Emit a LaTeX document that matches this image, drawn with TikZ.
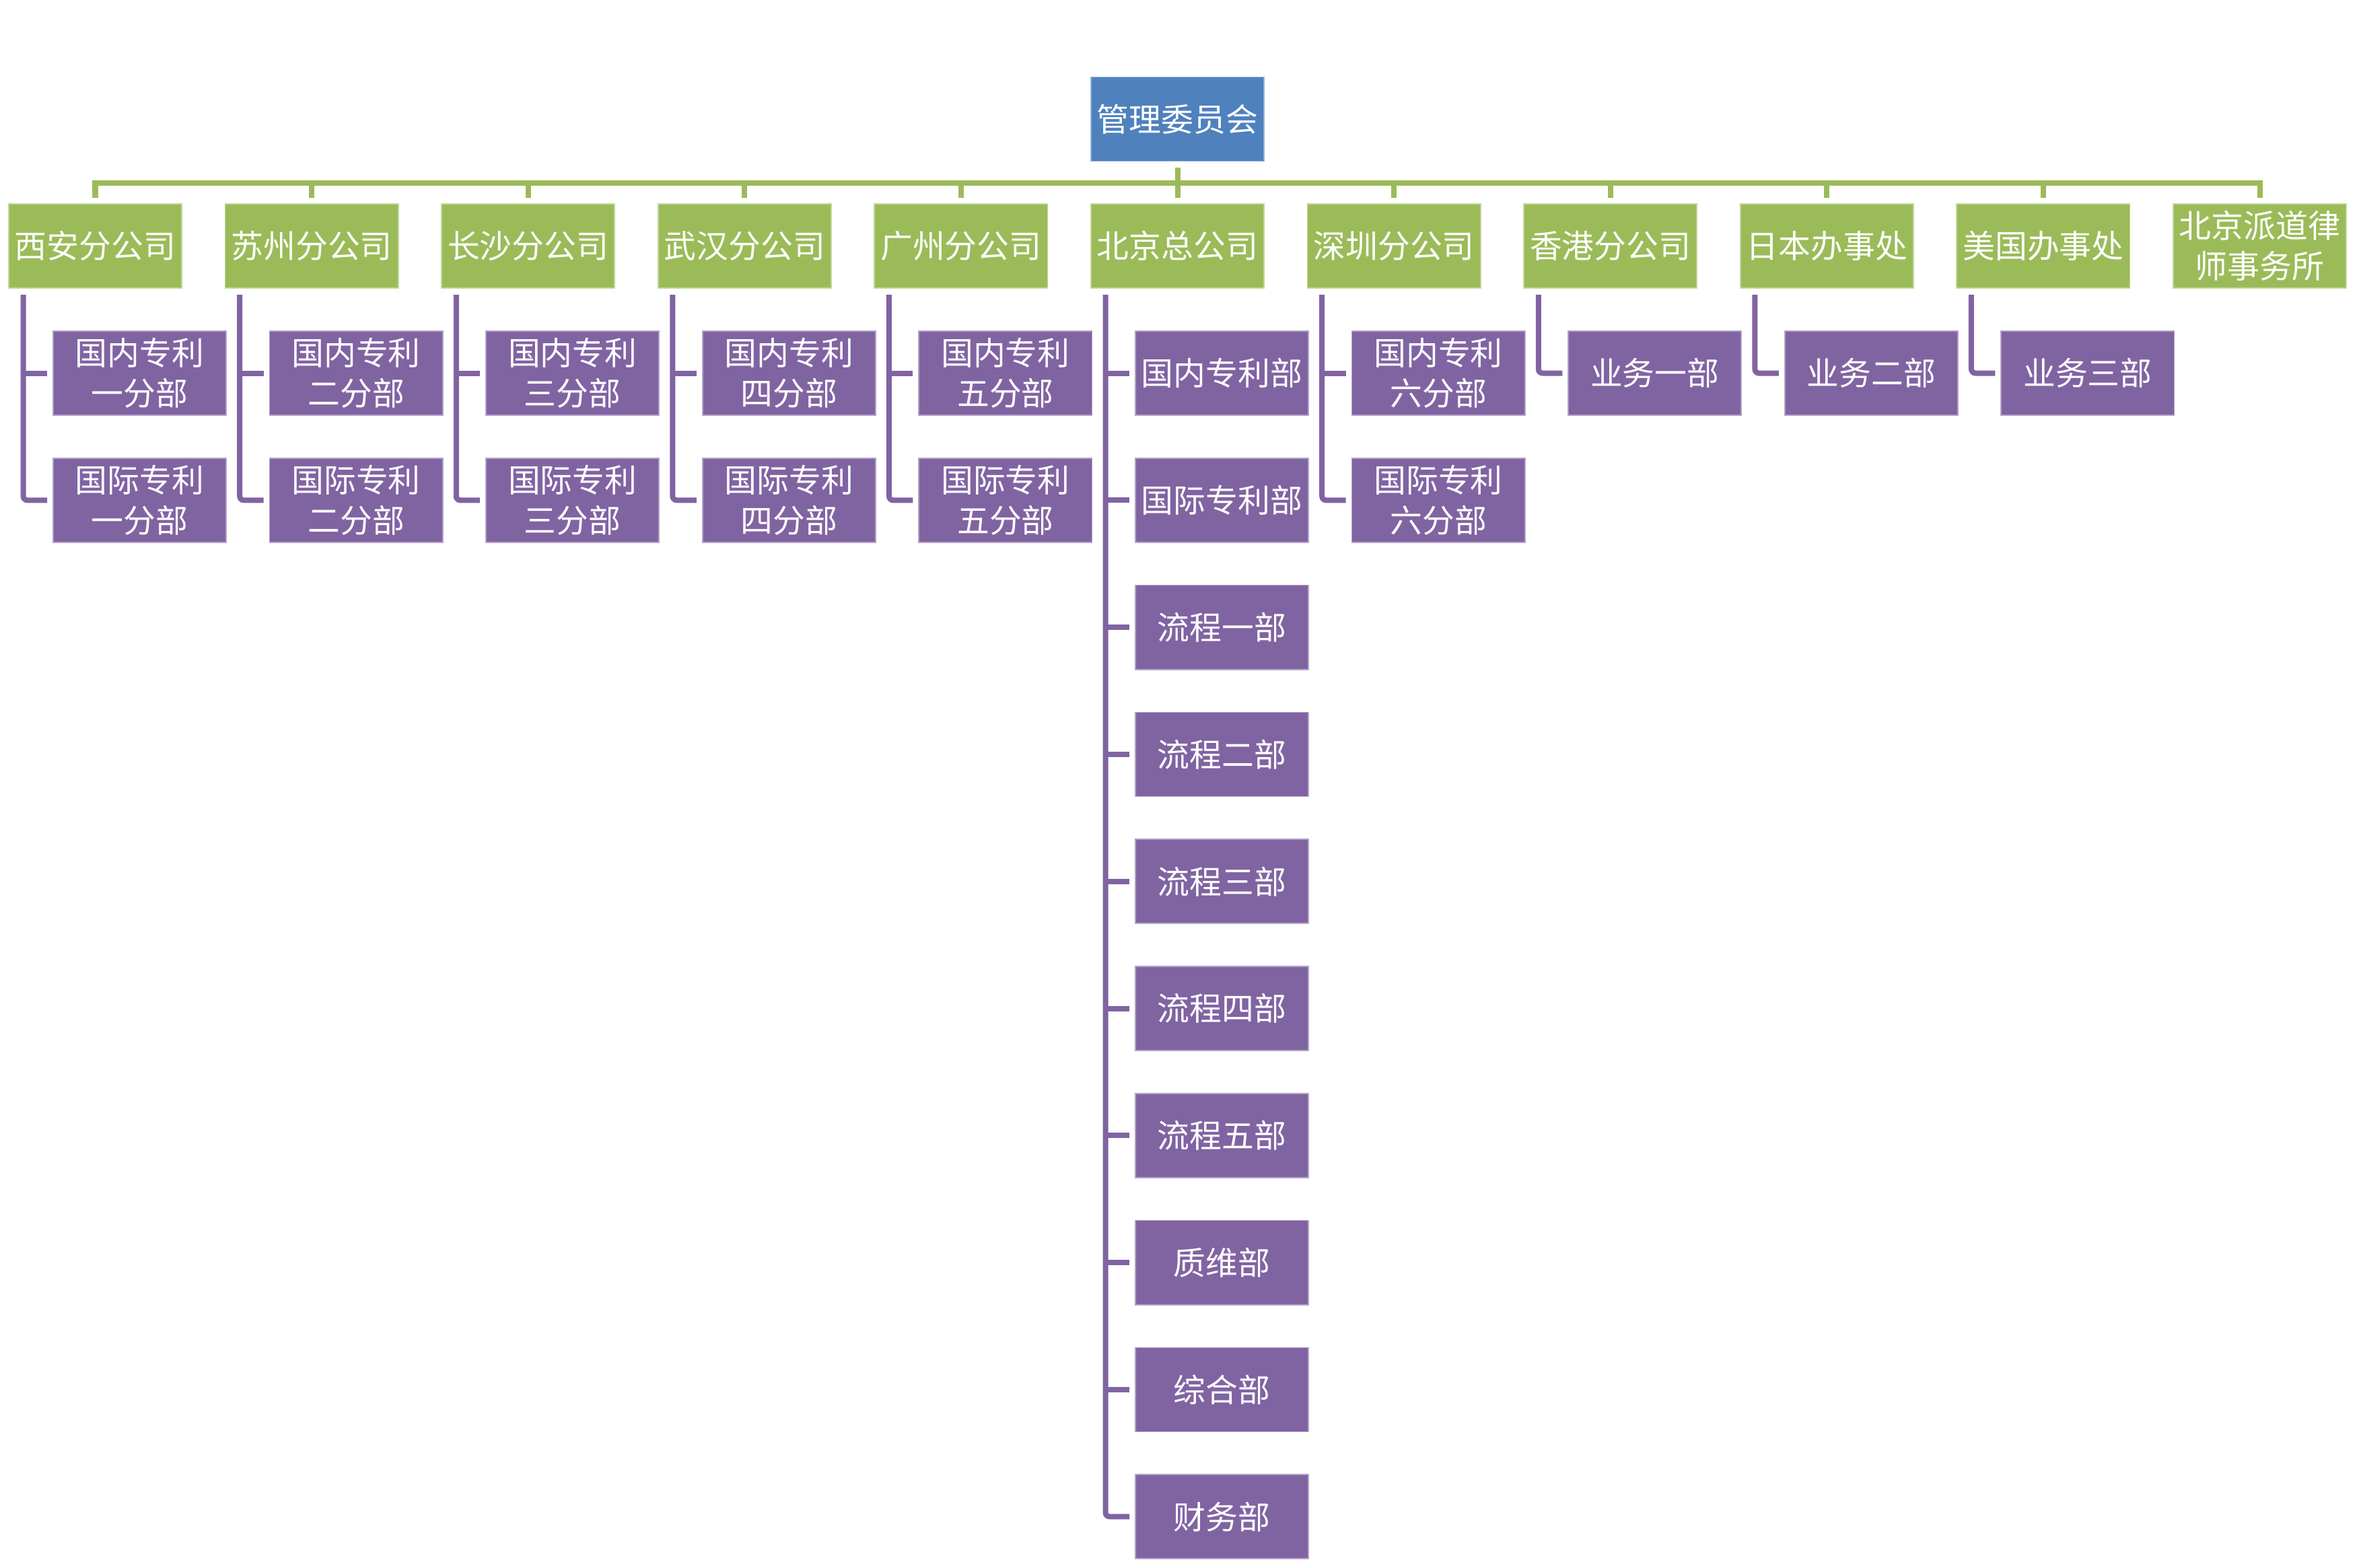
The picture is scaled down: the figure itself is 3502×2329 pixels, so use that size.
\documentclass[tikz,border=0pt]{standalone}
\usepackage{fontspec}
\newfontfamily\cjk{Noto Sans CJK SC}
\definecolor{blueC}{HTML}{4F81BD}
\definecolor{greenC}{HTML}{9BBB59}
\definecolor{purpleC}{HTML}{8064A2}
\begin{document}
\begin{tikzpicture}[x=0.01cm,y=-0.01cm,
  basebox/.style={rectangle,minimum width=2.57cm,minimum height=1.25cm,inner sep=0pt,
    text=white,align=center,font=\cjk\fontsize{13.6}{17}\selectfont,line width=0.5pt},
  topbox/.style={basebox,fill=blueC,draw=blueC!60!white},
  grpbox/.style={basebox,fill=greenC,draw=greenC!60!white},
  deptbox/.style={basebox,fill=purpleC,draw=purpleC!60!white},
  gline/.style={draw=greenC,line width=0.08cm,line join=miter},
  pline/.style={draw=purpleC,line width=0.08cm,rounded corners=0.06cm}]
\useasboundingbox[fill=white] (0,0) rectangle (3502,2329);

% top
\node[topbox] (top) at (1749.5,177) {管理委员会};

% second level
\node[grpbox] (g0) at (141.5,365.5) {西安分公司};
\node[grpbox] (g1) at (463.1,365.5) {苏州分公司};
\node[grpbox] (g2) at (784.7,365.5) {长沙分公司};
\node[grpbox] (g3) at (1106.3,365.5) {武汉分公司};
\node[grpbox] (g4) at (1427.9,365.5) {广州分公司};
\node[grpbox] (g5) at (1749.5,365.5) {北京总公司};
\node[grpbox] (g6) at (2071.1,365.5) {深圳分公司};
\node[grpbox] (g7) at (2392.7,365.5) {香港分公司};
\node[grpbox] (g8) at (2714.3,365.5) {日本办事处};
\node[grpbox] (g9) at (3035.9,365.5) {美国办事处};
\node[grpbox] (g10) at (3357.5,365.5) {北京派道律\\师事务所};

% green connectors
\coordinate (bar) at (1749.5,272);
\draw[gline] ([yshift=-0.085cm]top.south) -- (top.south |- bar);
\draw[gline] ([yshift=0.08cm]g0.north) -- (g0.north |- bar) -- (g10.north |- bar) -- ([yshift=0.08cm]g10.north);
\foreach \g in {g1,g2,g3,g4,g5,g6,g7,g8,g9}
  \draw[gline] (\g.north |- bar) -- ([yshift=0.08cm]\g.north);

% children
\node[deptbox] (a1) at (207.5,554.5) {国内专利\\一分部};
\node[deptbox] (a2) at (207.5,743.3) {国际专利\\一分部};
\node[deptbox] (b1) at (529.1,554.5) {国内专利\\二分部};
\node[deptbox] (b2) at (529.1,743.3) {国际专利\\二分部};
\node[deptbox] (c1) at (850.7,554.5) {国内专利\\三分部};
\node[deptbox] (c2) at (850.7,743.3) {国际专利\\三分部};
\node[deptbox] (d1) at (1172.3,554.5) {国内专利\\四分部};
\node[deptbox] (d2) at (1172.3,743.3) {国际专利\\四分部};
\node[deptbox] (e1) at (1493.9,554.5) {国内专利\\五分部};
\node[deptbox] (e2) at (1493.9,743.3) {国际专利\\五分部};
\node[deptbox] (f1) at (1815.5,554.5) {国内专利部};
\node[deptbox] (f2) at (1815.5,743.3) {国际专利部};
\node[deptbox] (f3) at (1815.5,932.1) {流程一部};
\node[deptbox] (f4) at (1815.5,1120.9) {流程二部};
\node[deptbox] (f5) at (1815.5,1309.7) {流程三部};
\node[deptbox] (f6) at (1815.5,1498.5) {流程四部};
\node[deptbox] (f7) at (1815.5,1687.3) {流程五部};
\node[deptbox] (f8) at (1815.5,1876.1) {质维部};
\node[deptbox] (f9) at (1815.5,2064.9) {综合部};
\node[deptbox] (f10) at (1815.5,2253.7) {财务部};
\node[deptbox] (h1) at (2137.1,554.5) {国内专利\\六分部};
\node[deptbox] (h2) at (2137.1,743.3) {国际专利\\六分部};
\node[deptbox] (k1) at (2458.7,554.5) {业务一部};
\node[deptbox] (m1) at (2780.3,554.5) {业务二部};
\node[deptbox] (n1) at (3101.9,554.5) {业务三部};

% purple brackets
\foreach \g in {g0,g1,g2,g3,g4,g5,g6,g7,g8,g9}
  \coordinate (v\g) at ([xshift=0.225cm,yshift=-0.09cm]\g.south west);

\draw[pline] (vg0) |- ([xshift=-0.08cm]a2.west);
\draw[pline] (vg0 |- a1.west) -- ([xshift=-0.08cm]a1.west);
\draw[pline] (vg1) |- ([xshift=-0.08cm]b2.west);
\draw[pline] (vg1 |- b1.west) -- ([xshift=-0.08cm]b1.west);
\draw[pline] (vg2) |- ([xshift=-0.08cm]c2.west);
\draw[pline] (vg2 |- c1.west) -- ([xshift=-0.08cm]c1.west);
\draw[pline] (vg3) |- ([xshift=-0.08cm]d2.west);
\draw[pline] (vg3 |- d1.west) -- ([xshift=-0.08cm]d1.west);
\draw[pline] (vg4) |- ([xshift=-0.08cm]e2.west);
\draw[pline] (vg4 |- e1.west) -- ([xshift=-0.08cm]e1.west);
\draw[pline] (vg5) |- ([xshift=-0.08cm]f10.west);
\foreach \c in {f1,f2,f3,f4,f5,f6,f7,f8,f9}
  \draw[pline] (vg5 |- \c.west) -- ([xshift=-0.08cm]\c.west);
\draw[pline] (vg6) |- ([xshift=-0.08cm]h2.west);
\draw[pline] (vg6 |- h1.west) -- ([xshift=-0.08cm]h1.west);
\draw[pline] (vg7) |- ([xshift=-0.08cm]k1.west);
\draw[pline] (vg8) |- ([xshift=-0.08cm]m1.west);
\draw[pline] (vg9) |- ([xshift=-0.08cm]n1.west);
\end{tikzpicture}
\end{document}
